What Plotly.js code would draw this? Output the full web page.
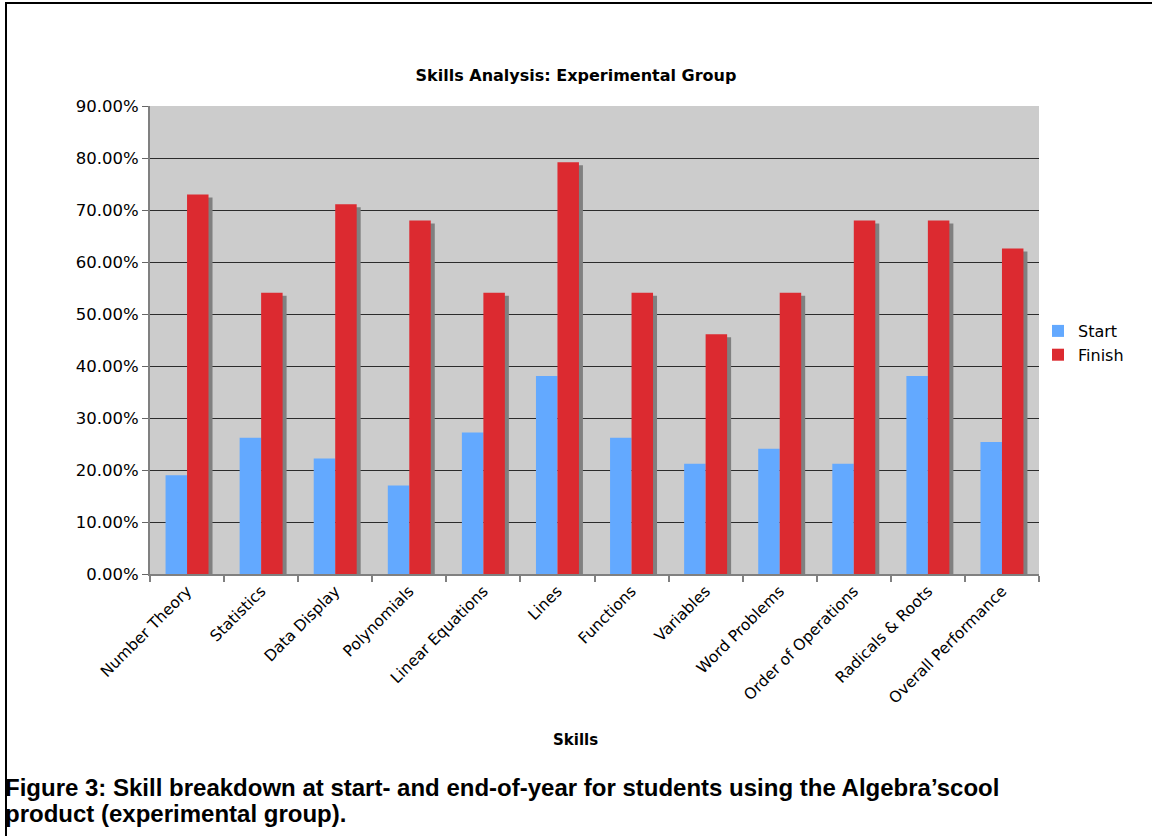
<!DOCTYPE html>
<html>
<head>
<meta charset="utf-8">
<script src="https://cdn.plot.ly/plotly-3.0.1.min.js"></script>
<style>
  html, body { margin: 0; padding: 0; background: #ffffff; }
  #wrap { position: relative; width: 1152px; height: 836px; }
  #chart { position: absolute; left: 0; top: 0; width: 1152px; height: 836px; }
  #frame { position: absolute; left: 5px; top: 2px; width: 1146px; height: 834px;
           border-top: 2px solid #000; border-left: 2px solid #000; pointer-events: none; }
</style>
</head>
<body>
<div id="wrap">
  <div id="chart"></div>
  <div id="frame"></div>
</div>
<script>
// Skill categories
const skills = [
  "Number Theory", "Statistics", "Data Display", "Polynomials",
  "Linear Equations", "Lines", "Functions", "Variables",
  "Word Problems", "Order of Operations", "Radicals & Roots", "Overall Performance"
];

// Share of students with the skill at the start of the year
const startScores = [0.190, 0.262, 0.222, 0.170, 0.272, 0.381, 0.262, 0.212, 0.241, 0.212, 0.381, 0.254];

// Share of students with the skill at the end of the year
const finishScores = [0.730, 0.541, 0.711, 0.680, 0.541, 0.792, 0.541, 0.461, 0.541, 0.680, 0.680, 0.626];

// Caption lines under the chart
const captionLines = [
  "Figure 3: Skill breakdown at start- and end-of-year for students using the Algebra\u2019scool",
  "product (experimental group)."
];

// Figure geometry (pixels)
const W = 1152, H = 836;
const M = { l: 150, r: 113, t: 106, b: 262 };
const plotW = W - M.l - M.r;
const plotH = H - M.t - M.b;
const yMax = 0.9;

// Convert page pixels to paper coordinates for annotations
const px2x = px => (px - M.l) / plotW;
const px2y = py => (H - M.b - py) / plotH;

// Drop shadow behind the Finish bars: shifted right 4px and down 3px
const barW = 0.29;
const shadowDx = 4 / (plotW / skills.length);
const shadowDy = 3 * yMax / plotH;
const shadowScores = finishScores.map(v => v - shadowDy);

const font = "DejaVu Sans, Verdana, sans-serif";
const capFont = "Liberation Sans, Arial, sans-serif";

const traces = [
  {
    type: "bar", x: skills, y: shadowScores,
    width: barW, offset: shadowDx,
    marker: { color: "#808080", line: { width: 0 } },
    showlegend: false, hoverinfo: "skip"
  },
  {
    type: "bar", name: "Start", x: skills, y: startScores,
    width: barW, offset: -barW, legendgroup: "a",
    marker: { color: "#63A9FF", line: { width: 0 } }
  },
  {
    type: "bar", name: "Finish", x: skills, y: finishScores,
    width: barW, offset: 0, legendgroup: "b",
    marker: { color: "#DC2A30", line: { width: 0 } }
  }
];

// Caption: two tightly spaced lines with fixed-height boxes
const capLineGap = 26;
const captionAnnotations = captionLines.map((line, i) => ({
  text: "<b>" + line + "</b>",
  xref: "paper", yref: "paper",
  x: px2x(4), y: px2y(773 + capLineGap * i),
  xanchor: "left", yanchor: "top", align: "left", valign: "middle",
  height: 27, borderpad: 0,
  showarrow: false,
  font: { family: capFont, size: 24, color: "#000" }
}));

const layout = {
  width: W, height: H,
  margin: M,
  paper_bgcolor: "#ffffff",
  plot_bgcolor: "#CCCCCC",
  barmode: "overlay",
  font: { family: font, size: 16, color: "#000" },
  title: {
    text: "<b>Skills Analysis: Experimental Group</b>",
    font: { family: font, size: 16, color: "#000" },
    x: 0.5, xref: "container",
    y: 1 - 75 / H, yref: "container", yanchor: "middle"
  },
  xaxis: {
    type: "category",
    tickangle: -45,
    tickson: "boundaries",
    ticks: "outside", ticklen: 6, tickwidth: 2, tickcolor: "#808080",
    showline: true, linecolor: "#808080", linewidth: 2,
    showgrid: false,
    tickfont: { family: font, size: 15.5, color: "#000" },
    range: [-0.5, skills.length - 0.5]
  },
  yaxis: {
    range: [0, yMax],
    dtick: 0.1,
    tickformat: ".2%",
    ticks: "outside", ticklen: 6, tickwidth: 1, tickcolor: "#666",
    showline: true, linecolor: "#808080", linewidth: 2,
    showgrid: true, gridcolor: "#2b2b2b", gridwidth: 1,
    zeroline: false,
    tickfont: { family: font, size: 16.5, color: "#000" }
  },
  legend: {
    x: px2x(1038), xanchor: "left",
    y: px2y(314), yanchor: "top",
    bgcolor: "rgba(0,0,0,0)",
    font: { family: font, size: 16, color: "#000" },
    tracegroupgap: 0,
    itemwidth: 30
  },
  annotations: [
    {
      text: "<b>Skills</b>",
      xref: "paper", yref: "paper",
      x: px2x(575), y: px2y(740),
      xanchor: "center", yanchor: "middle",
      showarrow: false,
      font: { family: font, size: 15, color: "#000" }
    }
  ].concat(captionAnnotations)
};

Plotly.newPlot("chart", traces, layout, { displayModeBar: false, staticPlot: true });
</script>
</body>
</html>
